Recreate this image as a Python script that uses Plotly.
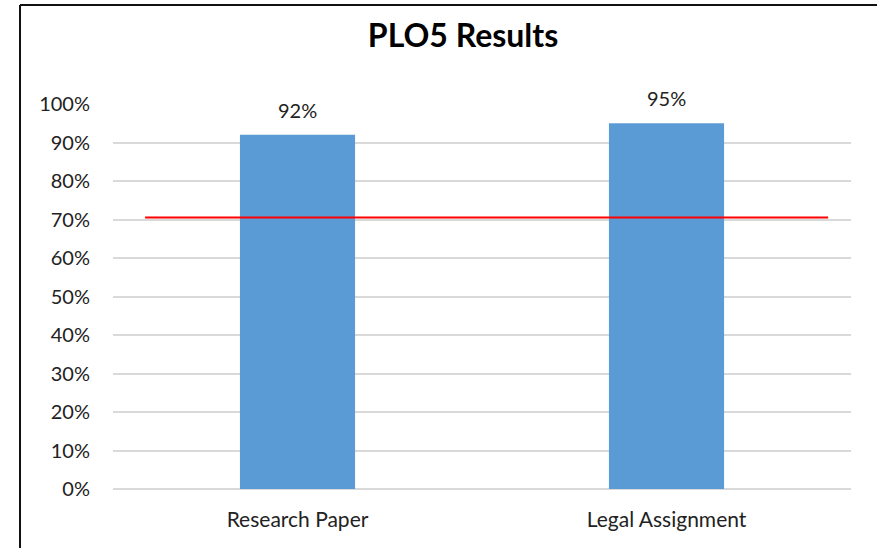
import plotly.graph_objects as go

categories = ["Research Paper", "Legal Assignment"]
values = [0.92, 0.95]
value_labels = ["92%", "95%"]
threshold = 0.705
y_ticks = [i / 10 for i in range(11)]
y_tick_labels = [f"{i*10}%" for i in range(11)]

FONT = "Lato, Open Sans, sans-serif"

fig = go.Figure()
fig.add_trace(go.Bar(
    x=categories, y=values,
    marker=dict(color="#5B9BD5", line=dict(width=0)),
    width=0.312, hoverinfo="skip",
))

for c, v, t in zip(categories, values, value_labels):
    fig.add_annotation(x=c, y=v, text=t, showarrow=False, yanchor="bottom",
                       yshift=11, font=dict(size=20, color="#222", family=FONT))

# target line
fig.add_shape(type="line", xref="x", yref="y", x0=-0.413, x1=1.438,
              y0=threshold, y1=threshold, line=dict(color="#FF0000", width=2))

# chart border (top and left)
fig.add_shape(type="line", xref="paper", yref="paper", x0=-0.126, x1=1.2,
              y0=1.257, y1=1.257, line=dict(color="#111", width=2))
fig.add_shape(type="line", xref="paper", yref="paper", x0=-0.126, x1=-0.126,
              y0=1.257, y1=-0.3, line=dict(color="#111", width=2))

fig.update_layout(
    width=877, height=548,
    margin=dict(l=113, r=26, t=104, b=59),
    paper_bgcolor="white", plot_bgcolor="white",
    showlegend=False,
    title=dict(text="<b>PLO5 Results</b>", x=0.528, xanchor="center",
               y=0.934, yanchor="middle",
               font=dict(size=32, color="#000", family=FONT)),
    font=dict(family=FONT, color="#222"),
)
fig.update_xaxes(showgrid=False, showline=False, ticks="",
                 tickfont=dict(size=21, color="#222", family=FONT),
                 ticklabelstandoff=16, range=[-0.5, 1.5])
fig.update_yaxes(range=[0, 1.0], tickvals=y_ticks, ticktext=y_tick_labels,
                 showgrid=True, gridcolor="#D9D9D9", gridwidth=1.5,
                 zeroline=True, zerolinecolor="#D9D9D9", zerolinewidth=1.5,
                 showline=False, ticks="",
                 tickfont=dict(size=20, color="#222", family=FONT),
                 ticklabelstandoff=22)

fig.write_html("out.html", config={"displayModeBar": False},
               post_script="document.body.style.margin='0';document.body.style.overflow='hidden';")
